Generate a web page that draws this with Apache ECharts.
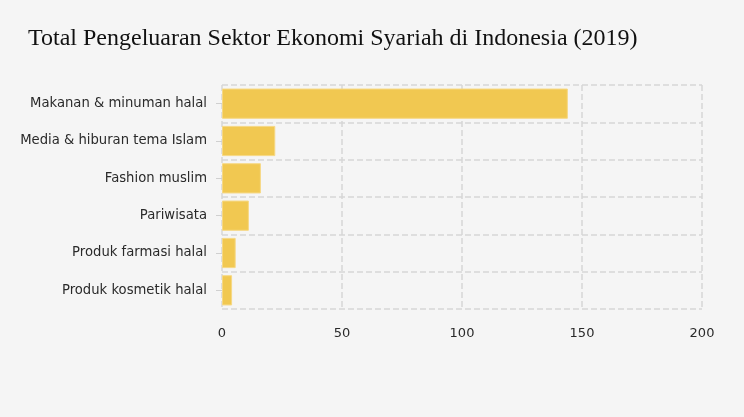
<!DOCTYPE html>
<html>
<head>
<meta charset="utf-8">
<script src="https://cdn.jsdelivr.net/npm/echarts@6/dist/echarts.min.js"></script>
<style>
html,body{margin:0;padding:0;background:#f5f5f5;}
#c{width:744px;height:417px;}
</style>
</head>
<body>
<div id="c"></div>
<script>
const categories = ["Makanan & minuman halal","Media & hiburan tema Islam","Fashion muslim","Pariwisata","Produk farmasi halal","Produk kosmetik halal"];
const values = [144.1, 22.2, 16.2, 11.2, 5.7, 4.2];
const xTicks = [0, 50, 100, 150, 200];

const chart = echarts.init(document.getElementById('c'));
chart.setOption({
  backgroundColor: '#f5f5f5',
  animation: false,
  title: {
    text: 'Total Pengeluaran Sektor Ekonomi Syariah di Indonesia (2019)',
    left: 23, top: 22,
    textStyle: {fontFamily: 'Liberation Serif', fontSize: 24, fontWeight: 'normal', color: '#111'}
  },
  grid: {left: 222, right: 42, top: 85, bottom: 108, containLabel: false},
  xAxis: {
    type: 'value', min: xTicks[0], max: xTicks[xTicks.length-1], interval: 50,
    axisLine: {show: false}, axisTick: {show: false},
    axisLabel: {color: '#2a2a2a', fontFamily: 'DejaVu Sans', fontSize: 13, margin: 18},
    splitLine: {show: true, lineStyle: {type: 'dashed', color: '#d6d6d6', width: 1.5}}
  },
  yAxis: {
    type: 'category', data: categories, inverse: true,
    axisLine: {show: false},
    axisTick: {show: true, alignWithLabel: true, length: 6, lineStyle: {color: '#d0d0d0'}},
    axisLabel: {color: '#2a2a2a', fontFamily: 'DejaVu Sans', fontSize: 13.2, margin: 15},
    splitLine: {show: true, lineStyle: {type: 'dashed', color: '#d6d6d6', width: 1.5}}
  },
  series: [{
    type: 'bar', data: values, barCategoryGap: '19%',
    itemStyle: {color: '#f1c851', borderColor: '#f6d884', borderWidth: 1}
  }]
});
</script>
</body>
</html>
